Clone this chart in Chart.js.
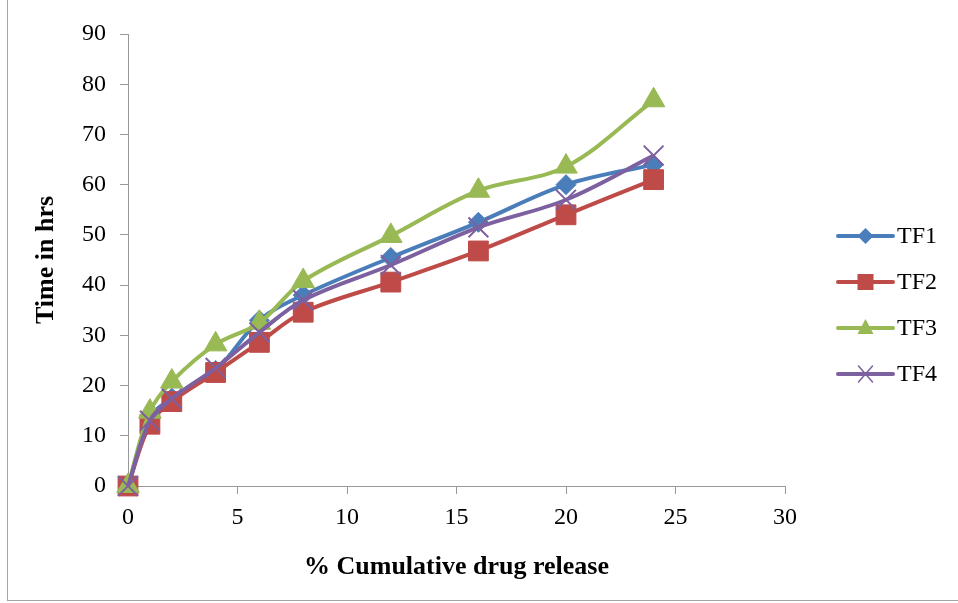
<!DOCTYPE html>
<html>
<head>
<meta charset="utf-8">
<script src="https://cdn.jsdelivr.net/npm/chart.js@4/dist/chart.umd.min.js"></script>
<style>
  html, body { margin: 0; padding: 0; background: #ffffff; }
  #wrap { position: relative; width: 958px; height: 603px; }
  #frame { position: absolute; left: 7px; top: 0px; width: 960px; height: 601px;
           border-left: 1px solid #a6a6a6; border-bottom: 1px solid #a6a6a6; box-sizing: border-box; pointer-events: none; }
  canvas { position: absolute; left: 0; top: 0; }
</style>
</head>
<body>
<div id="wrap">
  <canvas id="c" width="958" height="603"></canvas>
  <div id="frame"></div>
</div>
<script>
// Data (x = time points, y = values)
const xValues = [0, 1, 2, 4, 6, 8, 12, 16, 20, 24];
const seriesNames = ['TF1', 'TF2', 'TF3', 'TF4'];
const tf1 = [0, 13.5, 17.5, 23, 33, 38, 45.5, 52.5, 60, 64];
const tf2 = [0, 12.3, 16.8, 22.6, 28.6, 34.6, 40.6, 46.8, 54, 61];
const tf3 = [0, 14.8, 20.8, 28.2, 32.5, 40.8, 49.8, 58.8, 63.6, 76.8];
const tf4 = [0, 13, 17.4, 23.5, 30.6, 37, 44, 51.5, 57, 65.8];
const xTitle = '% Cumulative drug release';
const yTitle = 'Time in hrs';

const colors = ['#4A7EBB', '#BE4B48', '#98B954', '#7D60A0'];
const markers = ['rectRot', 'rect', 'triangle', 'crossRot'];
const radii = [10, 14, 13, 14];
const allSeries = [tf1, tf2, tf3, tf4];

const FONT = "'Liberation Serif', 'Times New Roman', serif";

const datasets = allSeries.map((vals, i) => ({
  label: seriesNames[i],
  data: xValues.map((x, j) => ({ x: x, y: vals[j] })),
  borderColor: colors[i],
  backgroundColor: colors[i],
  borderWidth: 4,
  pointStyle: markers[i],
  pointRadius: radii[i],
  pointBorderWidth: i === 3 ? 2 : 1,
  pointBorderColor: colors[i],
  pointBackgroundColor: colors[i],
  tension: 0.35,
  fill: false,
  clip: false,
  order: 3 - i
}));

const legendPlugin = {
  id: 'excelLegend',
  afterDraw(chart) {
    const ctx = chart.ctx;
    const x0 = 838, x1 = 893, tx = 897;
    const ys = [236, 282, 328, 374];
    ctx.save();
    chart.data.datasets.forEach((ds, i) => {
      const y = ys[i];
      ctx.strokeStyle = ds.borderColor;
      ctx.lineWidth = 4;
      ctx.lineCap = 'round';
      ctx.beginPath(); ctx.moveTo(x0, y); ctx.lineTo(x1, y); ctx.stroke();
      const cx = (x0 + x1) / 2;
      ctx.fillStyle = ds.backgroundColor;
      ctx.strokeStyle = ds.borderColor;
      ctx.lineWidth = 1;
      if (ds.pointStyle === 'rectRot') {
        ctx.beginPath(); ctx.moveTo(cx, y - 8); ctx.lineTo(cx + 8, y); ctx.lineTo(cx, y + 8); ctx.lineTo(cx - 8, y); ctx.closePath(); ctx.fill();
      } else if (ds.pointStyle === 'rect') {
        ctx.fillRect(cx - 8, y - 8, 16, 16);
      } else if (ds.pointStyle === 'triangle') {
        ctx.beginPath(); ctx.moveTo(cx, y - 9); ctx.lineTo(cx + 8, y + 6); ctx.lineTo(cx - 8, y + 6); ctx.closePath(); ctx.fill();
      } else {
        ctx.lineWidth = 1.5;
        ctx.beginPath(); ctx.moveTo(cx - 7, y - 8); ctx.lineTo(cx + 7, y + 8); ctx.moveTo(cx + 7, y - 8); ctx.lineTo(cx - 7, y + 8); ctx.stroke();
      }
      ctx.fillStyle = '#000';
      ctx.font = '24px ' + FONT;
      ctx.textBaseline = 'middle';
      ctx.textAlign = 'left';
      ctx.fillText(ds.label, tx, y + 1);
    });
    ctx.restore();
  }
};

new Chart(document.getElementById('c'), {
  type: 'line',
  data: { datasets: datasets },
  options: {
    responsive: false,
    animation: false,
    devicePixelRatio: 1,
    layout: { padding: { left: 0, right: 173, top: 34, bottom: 0 } },
    plugins: { legend: { display: false }, tooltip: { enabled: false } },
    scales: {
      x: {
        type: 'linear', min: 0, max: 30,
        afterFit(s) { s.height = 117; },
        ticks: { stepSize: 5, color: '#000', padding: 9, font: { family: FONT, size: 24 }, maxRotation: 0 },
        grid: { display: true, drawOnChartArea: false, drawTicks: true, tickLength: 8, color: '#989898', lineWidth: 1 },
        border: { display: true, color: '#989898', width: 1 },
        title: { display: true, text: xTitle, color: '#000', font: { family: FONT, size: 26, weight: 'bold' }, padding: { top: 0, bottom: 20 } }
      },
      y: {
        type: 'linear', min: 0, max: 90,
        afterFit(s) { s.width = 128; },
        ticks: { stepSize: 10, color: '#000', padding: 14, font: { family: FONT, size: 24 } },
        grid: { display: true, drawOnChartArea: false, drawTicks: true, tickLength: 8, color: '#989898', lineWidth: 1 },
        border: { display: true, color: '#989898', width: 1 },
        title: { display: true, text: yTitle, color: '#000', font: { family: FONT, size: 26, weight: 'bold' }, padding: { top: 31, bottom: 0 } }
      }
    }
  },
  plugins: [legendPlugin]
});
</script>
</body>
</html>
